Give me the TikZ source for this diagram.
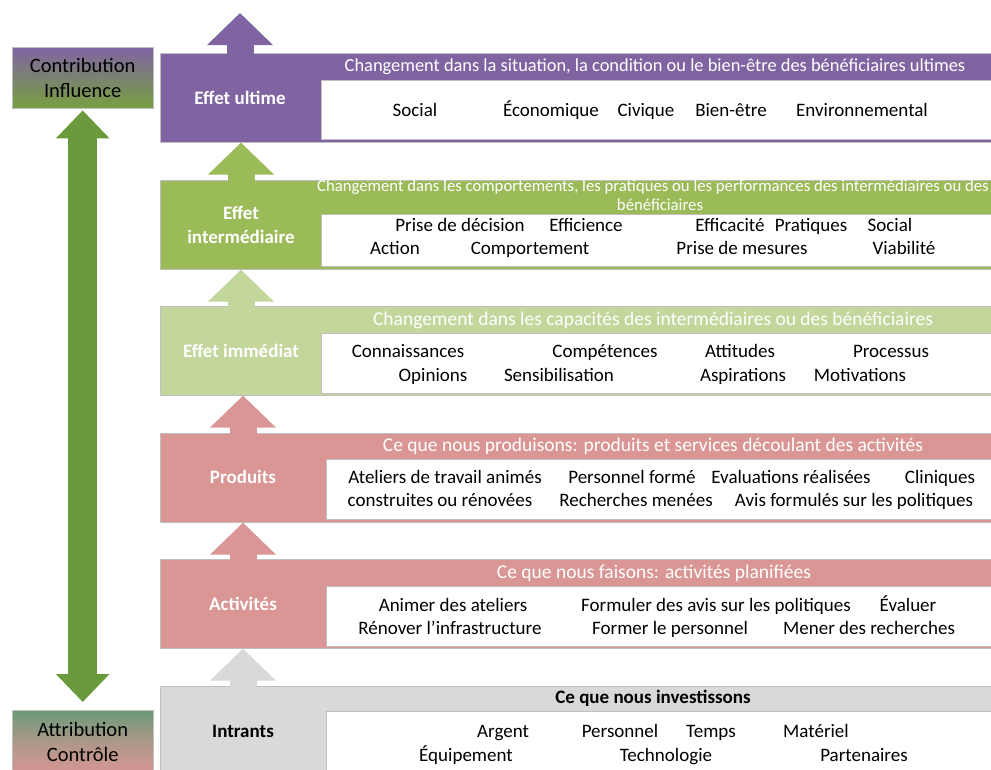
\documentclass[tikz,border=0pt]{standalone}
\usepackage{fontspec}
\setmainfont{Carlito}
\usepackage{xcolor}
\usepackage{tikz}
\usetikzlibrary{arrows.meta,calc}
\definecolor{lmpurple}{HTML}{8064A2}
\definecolor{lmgreen}{HTML}{9BBB59}
\definecolor{lmlightgreen}{HTML}{C3D69B}
\definecolor{lmpink}{HTML}{D99694}
\definecolor{lmgrey}{HTML}{D9D9D9}
\definecolor{lmarrow}{HTML}{6A9A3B}
\definecolor{lmborder}{HTML}{BFBFBF}
\definecolor{lmtopgreen}{HTML}{76A040}
\definecolor{lmbotgreen}{HTML}{6B9A78}
\tikzset{
  rowbox/.style={draw=lmborder,line width=0.6pt,anchor=north west,
    minimum width=840pt,minimum height=89pt,inner sep=0pt},
  whitebox/.style={rowbox,fill=white,minimum width=680pt,minimum height=60pt},
  rowlabel/.style={font=\fontsize{19}{24}\selectfont\bfseries,text=white,align=center,inner sep=0pt},
  banner/.style={text=white,anchor=base,inner sep=0pt,font=\fontsize{19.5}{24}\selectfont},
  entry/.style={anchor=base,inner sep=0pt},
  uparrow/.style={line width=27pt,-{Triangle[width=64pt,length=32pt]},shorten <=-1pt},
  sidebox/.style={anchor=north west,minimum width=141pt,minimum height=61pt,
    align=center,draw=lmborder,line width=0.4pt,inner sep=0pt,
    font=\fontsize{20.5}{25}\selectfont},
  bigarrow/.style={draw=lmarrow,line width=29pt,
    {Triangle[width=52pt,length=28pt]}-{Triangle[width=52pt,length=28pt]}}
}

\begin{document}
\begin{tikzpicture}[x=1pt,y=-1pt,font=\fontsize{19}{24}\selectfont]
\useasboundingbox (0,0) rectangle (991,769);

% side boxes and the double arrow
\node[sidebox,top color=lmpurple,bottom color=lmtopgreen] (contrib) at (12,47) {Contribution\\Influence};
\node[sidebox,top color=lmbotgreen,bottom color=lmpink,middle color=lmpink!60!lmbotgreen,minimum height=64pt] (attrib) at (12,710) {Attribution\\Contrôle};
\draw[bigarrow,shorten <=2pt,shorten >=8pt] (contrib.south) -- (attrib.north);

% rows
\node[rowbox,fill=lmpurple] (ultime) at (160,53) {};
\node[whitebox,minimum height=59pt] (ultimebox) at (321,80) {};
\node[rowbox,fill=lmgreen] (inter) at (160,180) {};
\node[whitebox,minimum height=52pt] (interbox) at (321,214) {};
\node[rowbox,fill=lmlightgreen] (imm) at (160,306) {};
\node[whitebox] (immbox) at (321,333) {};
\node[rowbox,fill=lmpink] (prod) at (160,433) {};
\node[whitebox] (prodbox) at (326,459) {};
\node[rowbox,fill=lmpink] (act) at (160,559) {};
\node[whitebox] (actbox) at (326,586) {};
\node[rowbox,fill=lmgrey] (intr) at (160,686) {};
\node[whitebox,minimum height=70pt] (intrbox) at (326,711) {};

% row labels
\node[rowlabel] (ultimelbl) at (240,98) {Effet ultime};
\node[rowlabel] (interlbl) at (241,225) {Effet\\intermédiaire};
\node[rowlabel] (immlbl) at (241,351) {Effet immédiat};
\node[rowlabel] (prodlbl) at (243,477) {Produits};
\node[rowlabel] (actlbl) at (243,604) {Activités};
\node[rowlabel,text=black] (intrlbl) at (243,731) {Intrants};

% arrows between rows
\coordinate (top) at (240,13);
\draw[uparrow,draw=lmpurple] (ultimelbl |- ultime.north) -- (top);
\draw[uparrow,draw=lmgreen] (interlbl |- inter.north) -- (interlbl |- ultime.south);
\draw[uparrow,draw=lmlightgreen] (immlbl |- imm.north) -- (immlbl |- inter.south);
\draw[uparrow,draw=lmpink] (prodlbl |- prod.north) -- (prodlbl |- imm.south);
\draw[uparrow,draw=lmpink] (actlbl |- act.north) -- (actlbl |- prod.south);
\draw[uparrow,draw=lmgrey] (intrlbl |- intr.north) -- (intrlbl |- act.south);

% banners
\node[banner,font=\fontsize{18.4}{24}\selectfont] (ultimehead) at (655,71) {Changement dans la situation, la condition ou le bien-être des bénéficiaires ultimes};
\node[banner,font=\fontsize{16.7}{19}\selectfont] (interhead) at (653,191) {Changement dans les comportements, les pratiques ou les performances des intermédiaires ou des};
\node[banner,font=\fontsize{16.7}{19}\selectfont] (interhead2) at (660,210) {bénéficiaires};
\node[banner] (immhead) at (653,325) {Changement dans les capacités des intermédiaires ou des bénéficiaires};
\node[banner] (prodhead) at (653,451) {Ce que nous produisons: produits et services découlant des activités};
\node[banner] (acthead) at (654,578) {Ce que nous faisons: activités planifiées};
\node[banner,text=black,font=\fontsize{19}{24}\selectfont\bfseries] (intrhead) at (653,703) {Ce que nous investissons};

% entries
\foreach \px/\py/\txt [count=\i] in {415/116/Social, 551/116/Économique, 646/116/Civique,
    731/116/Bien-être, 862/116/Environnemental}
  \node[entry] (ult\i) at (\px,\py) {\txt};
\foreach \px/\py/\txt [count=\i] in {460/231/Prise de décision, 586/231/Efficience,
    730/231/Efficacité, 811/231/Pratiques, 890/231/Social, 395/254/Action,
    530/254/Comportement, 742/254/Prise de mesures, 904/254/Viabilité}
  \node[entry] (int\i) at (\px,\py) {\txt};
\foreach \px/\py/\txt [count=\i] in {408/357/Connaissances, 605/357/Compétences,
    740/357/Attitudes, 891/357/Processus, 433/381/Opinions, 559/381/Sensibilisation,
    743/381/Aspirations, 860/381/Motivations}
  \node[entry] (imm\i) at (\px,\py) {\txt};
\foreach \px/\py/\txt [count=\i] in {445/483/Ateliers de travail animés,
    632/483/Personnel formé, 791/483/Evaluations réalisées, 940/483/Cliniques,
    440/506/construites ou rénovées, 636/506/Recherches menées,
    854/506/Avis formulés sur les politiques}
  \node[entry] (prod\i) at (\px,\py) {\txt};
\foreach \px/\py/\txt [count=\i] in {453/611/Animer des ateliers,
    716/611/Formuler des avis sur les politiques, 908/611/Évaluer,
    450/634/Rénover l’infrastructure, 670/634/Former le personnel,
    869/634/Mener des recherches}
  \node[entry] (act\i) at (\px,\py) {\txt};
\foreach \px/\py/\txt [count=\i] in {503/737/Argent, 620/737/Personnel, 711/737/Temps,
    816/737/Matériel, 466/761/Équipement, 666/761/Technologie, 864/761/Partenaires}
  \node[entry] (intr\i) at (\px,\py) {\txt};
\end{tikzpicture}
\end{document}
